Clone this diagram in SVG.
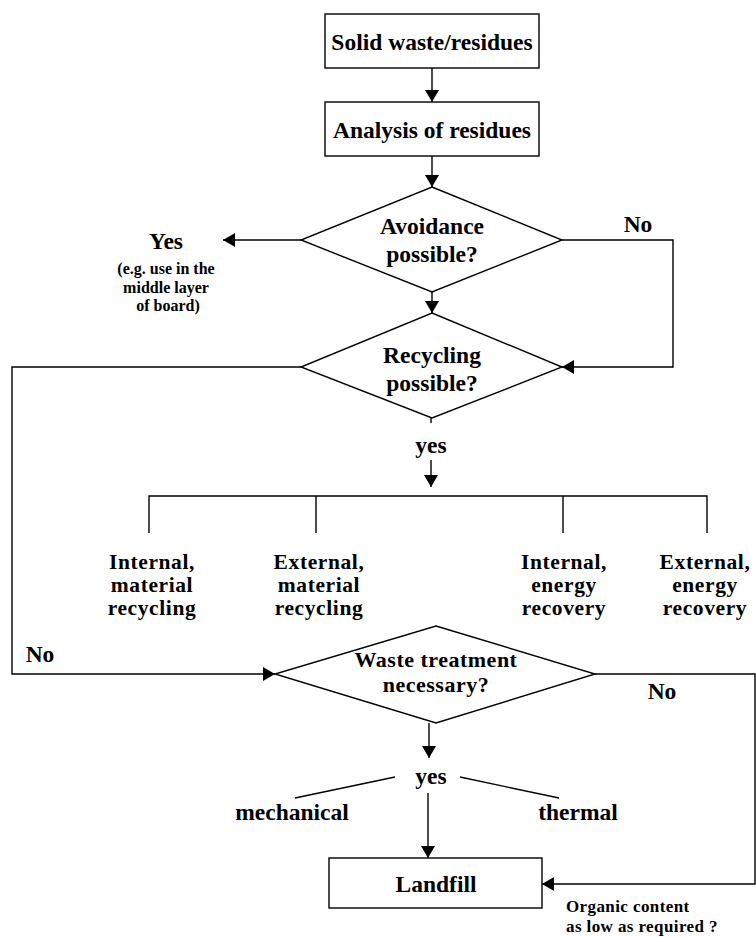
<svg xmlns="http://www.w3.org/2000/svg" width="756" height="937" viewBox="0 0 756 937">
<style>
text{font-family:"Liberation Serif","Times New Roman",serif;font-weight:bold;fill:#000;text-anchor:middle}
.t{font-size:23.5px}
.m{font-size:21.5px;letter-spacing:0.6px}
.w{font-size:22px;letter-spacing:0.5px}
.s{font-size:16px}
.o{font-size:17px;text-anchor:start;letter-spacing:0.4px}
.shape{fill:#fff;stroke:#000;stroke-width:1.4}
.ln{fill:none;stroke:#000;stroke-width:1.4}
.ar{fill:none;stroke:#000;stroke-width:1.4;marker-end:url(#ah)}
</style>
<defs>
<marker id="ah" markerUnits="userSpaceOnUse" markerWidth="13" markerHeight="14" refX="12" refY="7" orient="auto">
<path d="M0,0 L12,7 L0,14 Z" fill="#000"/>
</marker>
</defs>
<rect width="756" height="937" fill="#fff"/>
<g id="connectors">
<line class="ar" x1="432" y1="68" x2="432" y2="102"/>
<line class="ar" x1="432" y1="156" x2="432" y2="187"/>
<line class="ar" x1="301" y1="240" x2="223" y2="240"/>
<polyline class="ar" points="562,240 673,240 673,367 562,367"/>
<line class="ar" x1="432" y1="292" x2="432" y2="313"/>
<line class="ln" x1="431" y1="418" x2="431" y2="423"/>
<line class="ar" x1="431" y1="460" x2="431" y2="487"/>
<polyline class="ln" points="149,533 149,496 707,496 707,533"/>
<line class="ln" x1="316" y1="496" x2="316" y2="533"/>
<line class="ln" x1="563" y1="496" x2="563" y2="533"/>
<polyline class="ar" points="301,367 12,367 12,674 275,674"/>
<polyline class="ar" points="595,674 755,674 755,884 542,884"/>
<line class="ar" x1="429" y1="723" x2="429" y2="758"/>
<line class="ln" x1="295" y1="798" x2="395" y2="777"/>
<line class="ln" x1="460" y1="777" x2="559" y2="798"/>
<line class="ar" x1="428" y1="793" x2="428" y2="858"/>
</g>
<g id="solid-waste">
<rect class="shape" x="325" y="14" width="214" height="54"/>
<text class="t" x="432" y="50">Solid waste/residues</text>
</g>
<g id="analysis">
<rect class="shape" x="325" y="102" width="214" height="54"/>
<text class="t" x="432" y="138">Analysis of residues</text>
</g>
<g id="avoidance">
<polygon class="shape" points="432,187 562,240 432,292 301,240"/>
<text class="t" x="432" y="234">Avoidance</text>
<text class="t" x="432" y="262">possible?</text>
</g>
<g id="yes-label">
<text class="t" x="166" y="249">Yes</text>
<text class="s" x="166" y="274">(e.g. use in the</text>
<text class="s" x="166" y="293">middle layer</text>
<text class="s" x="168" y="311">of board)</text>
</g>
<g id="no-label-1">
<text class="t" x="638" y="232">No</text>
</g>
<g id="recycling">
<polygon class="shape" points="432,313 562,367 432,418 301,367"/>
<text class="t" x="432" y="363">Recycling</text>
<text class="t" x="432" y="391">possible?</text>
</g>
<g id="yes-recycling">
<text class="t" x="431" y="453">yes</text>
</g>
<g id="internal-material">
<text class="m" x="152" y="569">Internal,</text>
<text class="m" x="152" y="592">material</text>
<text class="m" x="152" y="615">recycling</text>
</g>
<g id="external-material">
<text class="m" x="319" y="569">External,</text>
<text class="m" x="319" y="592">material</text>
<text class="m" x="319" y="615">recycling</text>
</g>
<g id="internal-energy">
<text class="m" x="564" y="569">Internal,</text>
<text class="m" x="564" y="592">energy</text>
<text class="m" x="564" y="615">recovery</text>
</g>
<g id="external-energy">
<text class="m" x="705" y="569">External,</text>
<text class="m" x="705" y="592">energy</text>
<text class="m" x="705" y="615">recovery</text>
</g>
<g id="no-label-2">
<text class="t" x="40" y="662">No</text>
</g>
<g id="waste-treatment">
<polygon class="shape" points="436,626 595,674 436,723 275,674"/>
<text class="w" x="436" y="667">Waste treatment</text>
<text class="w" x="436" y="692">necessary?</text>
</g>
<g id="no-label-3">
<text class="t" x="662" y="699">No</text>
</g>
<g id="yes-treatment">
<text class="t" x="431" y="784">yes</text>
<text class="t" x="292" y="820">mechanical</text>
<text class="t" x="578" y="820">thermal</text>
</g>
<g id="landfill">
<rect class="shape" x="329" y="858" width="213" height="50"/>
<text class="t" x="436" y="892">Landfill</text>
</g>
<g id="organic-label">
<text class="o" x="566" y="912">Organic content</text>
<text class="o" x="566" y="932">as low as required ?</text>
</g>
</svg>
